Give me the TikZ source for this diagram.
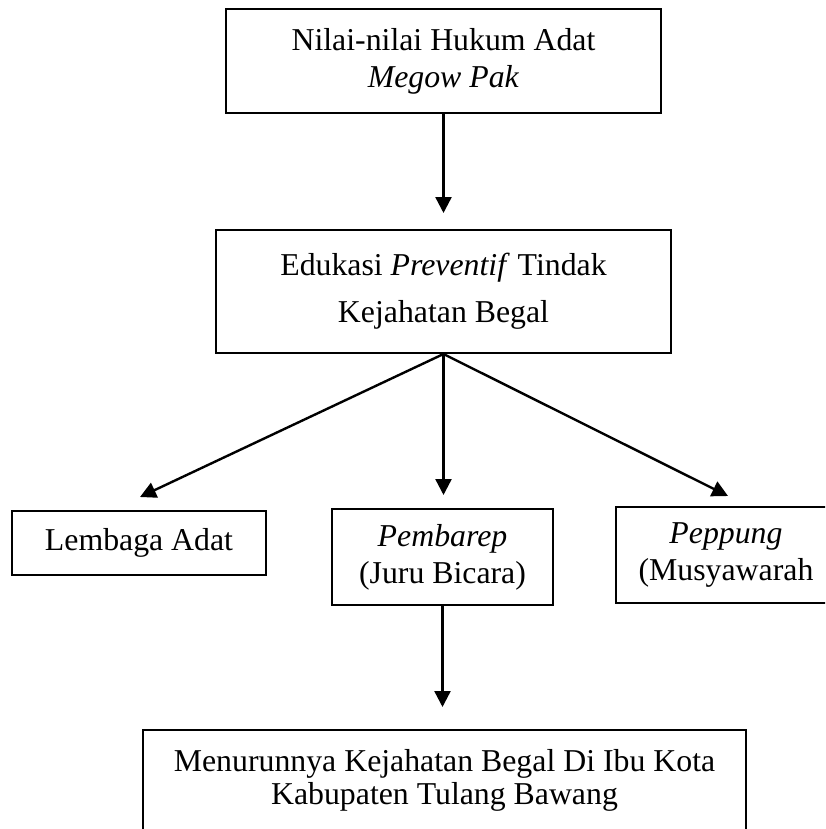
\documentclass[tikz,border=0pt]{standalone}
\usepackage{fontspec}
\setmainfont{Liberation Serif}
\usetikzlibrary{arrows.meta, positioning}
\tikzset{
    kotak/.style={draw, line width=1pt, align=center, inner sep=0pt,
        font=\fontsize{15.9}{18.5}\selectfont},
    panah/.style={line width=1.2pt, -{Triangle[width=8pt,length=8pt]}}
}

\begin{document}
\begin{tikzpicture}[x=0.5pt, y=-0.5pt]
    \def \px {0.5pt}
    \useasboundingbox (0,0) rectangle (825,829);
    \clip (0,0) rectangle (825,829);
    \node[kotak, minimum width=435*\px, minimum height=104*\px] (n1) at (443.5,61)
        {Nilai-nilai Hukum Adat\\ \textit{Megow Pak}};
    \node[kotak, minimum width=455*\px, minimum height=123*\px] (n2) at (443.5,291.5)
        {Edukasi \textit{Preventif} Tindak\\[5pt] Kejahatan Begal};
    \node[kotak, minimum width=254*\px, minimum height=64*\px] (n3) at (139,543)
        {Lembaga Adat};
    \node[kotak, minimum width=221*\px, minimum height=96*\px] (n4) at (442.5,557)
        {\textit{Pembarep}\\(Juru Bicara)};
    \node[kotak, minimum width=220*\px, minimum height=96*\px] (n5) at (726,555)
        {\textit{Peppung}\\(Musyawarah};
    \node[kotak, minimum width=603*\px, inner ysep=9.5pt, text depth=40pt, anchor=north] (n6) at (444.5,729)
        {Menurunnya Kejahatan Begal Di Ibu Kota\\[-2pt] Kabupaten Tulang Bawang};
    \coordinate (t0) at (443.5,213);
    \coordinate (t1) at (140,497);
    \coordinate (t2) at (443.5,495);
    \coordinate (t3) at (728,496);
    \coordinate (t4) at (442.5,707);
    \draw[panah] (n1.south) -- (t0);
    \draw[panah] (n2.south) -- (t1);
    \draw[panah] (n2.south) -- (t2);
    \draw[panah] (n2.south) -- (t3);
    \draw[panah] (n4.south) -- (t4);
\end{tikzpicture}
\end{document}
